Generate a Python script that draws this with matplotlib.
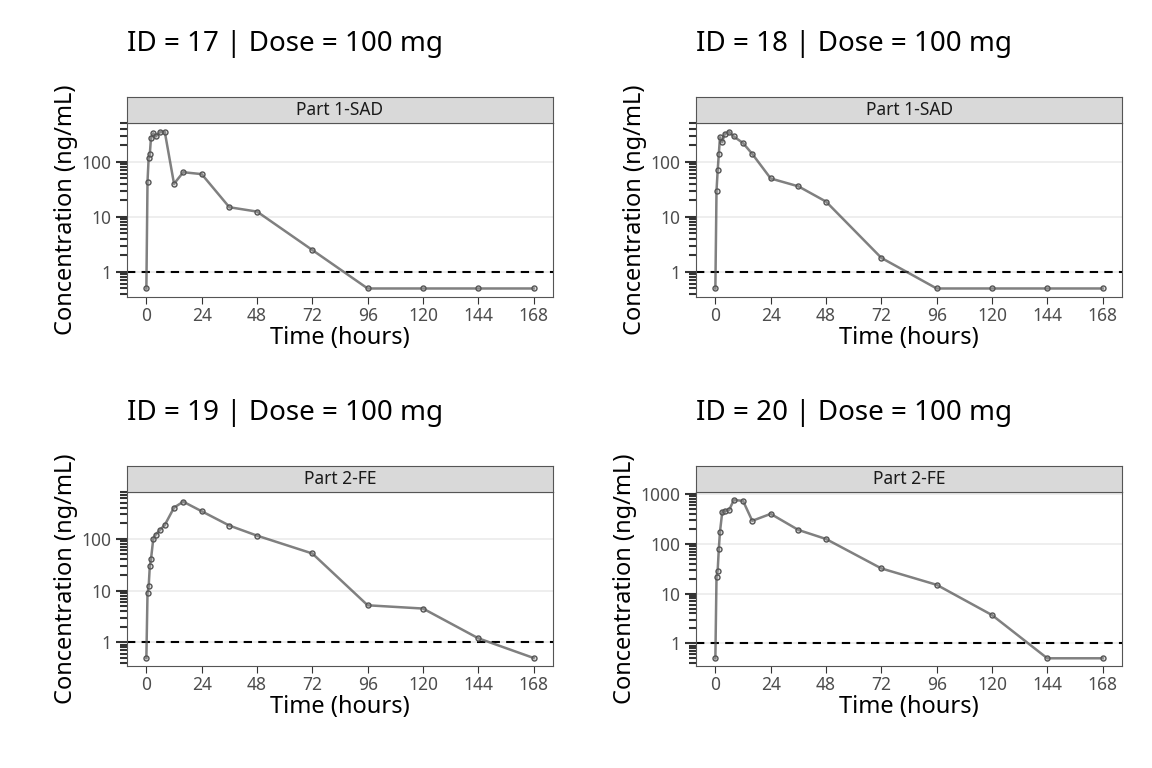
import numpy as np
import matplotlib.pyplot as plt
from matplotlib.ticker import FixedLocator, LogLocator, NullFormatter

plt.rcParams['font.family'] = ['Noto Sans', 'DejaVu Sans']

time = [0, 0.5, 1, 1.5, 2, 3, 4, 6, 8, 12, 16, 24, 36, 48, 72, 96, 120, 144, 168]
conc_17 = [0.5, 44, 120, 140, 270, 330, 290, 350, 350, 40, 65, 60, 15, 12.5, 2.5, 0.5, 0.5, 0.5, 0.5]
conc_18 = [0.5, 30, 70, 140, 280, 230, 320, 350, 290, 220, 140, 50, 36, 19, 1.8, 0.5, 0.5, 0.5, 0.5]
conc_19 = [0.5, 9, 12, 30, 40, 100, 120, 150, 185, 400, 520, 340, 180, 115, 52, 5.2, 4.5, 1.2, 0.5]
conc_20 = [0.5, 22, 29, 80, 175, 440, 460, 480, 760, 730, 290, 400, 190, 125, 32, 15, 3.7, 0.5, 0.5]

ids = [17, 18, 19, 20]
parts = ['Part 1-SAD', 'Part 1-SAD', 'Part 2-FE', 'Part 2-FE']
series = [conc_17, conc_18, conc_19, conc_20]
ytop = [510, 510, 800, 1100]
yticks = [[1, 10, 100], [1, 10, 100], [1, 10, 100], [1, 10, 100, 1000]]

W, H = 1152, 768
fig = plt.figure(figsize=(W / 100, H / 100), dpi=100)
boxes = [(127, 123), (696, 123), (127, 492), (696, 492)]
aw, ah = 426, 174

for i in range(4):
    x0, y0 = boxes[i]
    ax = fig.add_axes([x0 / W, 1 - (y0 + ah) / H, aw / W, ah / H])
    ax.set_yscale('log')
    ax.plot(time, series[i], color='#555555', alpha=0.75, lw=1.8, zorder=3)
    ax.scatter(time, series[i], s=13, facecolors=(0.6, 0.6, 0.6, 0.3), edgecolors='#555555', linewidths=1, zorder=4)
    ax.axhline(1, color='black', ls=(0, (4, 3)), lw=1.5, zorder=2)
    ax.set_ylim(0.35, ytop[i])
    ax.set_xlim(-8.4, 176.4)
    ax.set_xticks(range(0, 169, 24))
    ax.yaxis.set_major_locator(FixedLocator(yticks[i]))
    ax.set_yticklabels([str(v) for v in yticks[i]])
    ax.yaxis.set_minor_locator(LogLocator(base=10, subs=np.arange(2, 10)))
    ax.yaxis.set_minor_formatter(NullFormatter())
    ax.grid(axis='y', which='major', color='#ebebeb', lw=1.2, zorder=0)
    ax.tick_params(axis='y', which='major', length=8, width=1.5, color='#333333', labelsize=12.5, labelcolor='#4d4d4d')
    ax.tick_params(axis='y', which='minor', length=5, width=1.5, color='#333333')
    ax.tick_params(axis='x', length=5, color='#333333', labelsize=12.5, labelcolor='#4d4d4d', pad=2)
    for s in ax.spines.values():
        s.set_color('#555555')
    ax.set_xlabel('Time (hours)', fontsize=17, labelpad=1)
    ax.set_ylabel('Concentration (ng/mL)', fontsize=17, labelpad=2)

    sax = fig.add_axes([x0 / W, 1 - y0 / H, aw / W, 26 / H])
    sax.set_facecolor('#d9d9d9')
    sax.set_xticks([]); sax.set_yticks([])
    for s in sax.spines.values():
        s.set_color('#555555')
    sax.text(0.5, 0.5, parts[i], ha='center', va='center', fontsize=12.5, color='#1a1a1a', transform=sax.transAxes)
    fig.text(x0 / W, 1 - 44 / H - (y0 - 123) / H, f'ID = {ids[i]} | Dose = 100 mg', fontsize=20, ha='left', va='center')

fig.savefig('out.png', dpi=100)
